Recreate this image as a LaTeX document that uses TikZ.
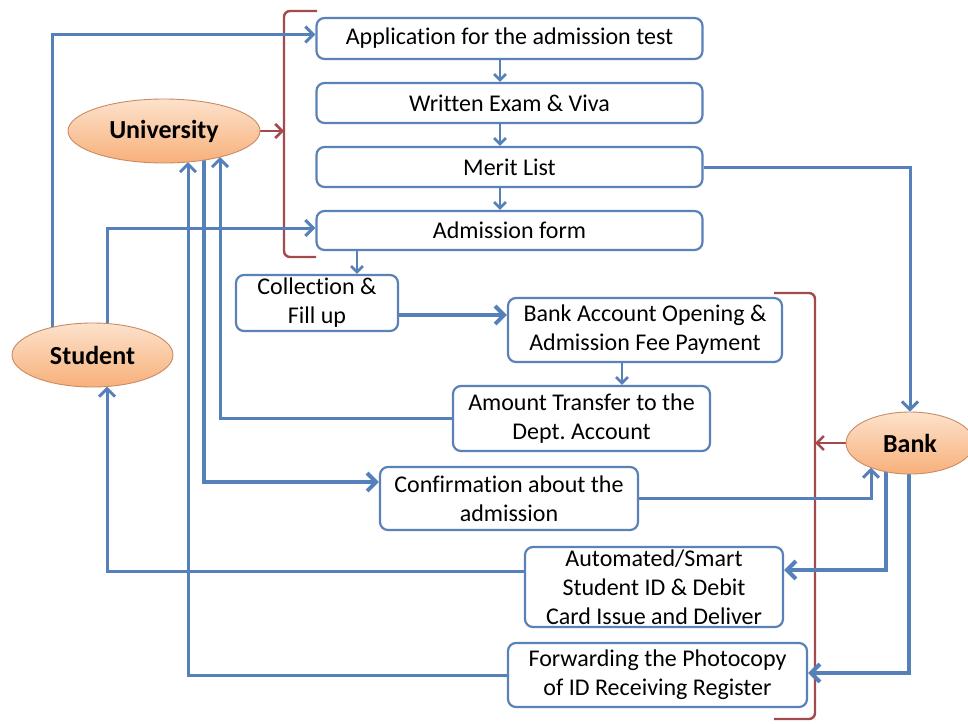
\documentclass[tikz,border=0pt]{standalone}
\usepackage{fontspec}
\setmainfont[Ligatures=NoCommon]{Carlito}
\usetikzlibrary{arrows.meta,shapes.geometric,calc,backgrounds}
\definecolor{cblue}{HTML}{5680BA}
\definecolor{bblue}{HTML}{5A82B8}
\definecolor{cred}{HTML}{A34A4C}
\definecolor{etop}{HTML}{FDE2CC}
\definecolor{ebot}{HTML}{F7B07A}
\definecolor{eline}{HTML}{C98B64}
\frenchspacing
\begin{document}
\begin{tikzpicture}[x=1pt,y=-1pt,
  box/.style={draw=bblue,line width=2.2pt,rounded corners=8pt,fill=white,inner sep=0pt,align=center,font=\fontsize{24}{29}\selectfont},
  actor/.style={ellipse,draw=eline,line width=0.9pt,top color=etop,bottom color=ebot,inner sep=0pt,font=\bfseries\fontsize{26}{30}\selectfont},
  conn/.style={draw=cblue,line width=3pt,-{Straight Barb[length=8pt,width=16pt]}},
  tconn/.style={draw=cblue,line width=4pt,-{Straight Barb[length=9pt,width=18pt]}},
  sconn/.style={draw=cblue,line width=2.6pt,-{Straight Barb[length=6pt,width=12pt]}},
  bracket/.style={draw=cred,line width=2.4pt,rounded corners=6pt},
  redarrow/.style={draw=cred,line width=2.6pt,-{Straight Barb[length=7pt,width=14pt]}}]
\useasboundingbox (0,0) rectangle (968,723);
% process boxes
\node[box,minimum width=386pt,minimum height=41pt] (app) at (509.5,38.5) {Application for the admission test};
\node[box,minimum width=386pt,minimum height=40pt] (written) at (509.5,103) {Written Exam \& Viva};
\node[box,minimum width=386pt,minimum height=40pt] (merit) at (509.5,167) {Merit List};
\node[box,minimum width=386pt,minimum height=39pt] (adm) at (509.5,230.5) {Admission form};
\node[box,minimum width=162pt,minimum height=56pt] (coll) at (317,303) {Collection \&\\Fill up};
\node[box,minimum width=274pt,minimum height=64pt] (bao) at (645,330) {Bank Account Opening \&\\Admission Fee Payment};
\node[box,minimum width=257pt,minimum height=65pt] (amt) at (581.5,418.5) {Amount Transfer to the\\Dept. Account};
\node[box,minimum width=258pt,minimum height=63pt] (conf) at (509,498.5) {Confirmation about the\\admission};
\node[box,minimum width=258pt,minimum height=80pt] (auto) at (654,587) {Automated/Smart\\Student ID \& Debit\\Card Issue and Deliver};
\node[box,minimum width=299pt,minimum height=64pt] (fwd) at (657.5,675) {Forwarding the Photocopy\\of ID Receiving Register};
% actors
\node[actor,minimum width=192pt,minimum height=64pt] (uni) at (164,131) {University};
\node[actor,minimum width=161pt,minimum height=64pt] (stu) at (92.5,355) {Student};
\node[actor,minimum width=128pt,minimum height=62pt] (bank) at (910,443) {Bank};
\begin{scope}[on background layer]
  % brackets
  \draw[bracket] (317,11) -- (284,11) -- (284,257) -- (316,257);
  \draw[bracket] (774,293) -- (815,293) -- (815,719) -- (774,719);
  \coordinate (bu) at (284,131);
  \coordinate (bb) at (815,443);
  \draw[redarrow] (uni.east) -- (bu);
  \draw[redarrow] (bank.west) -- (bb);
  % student connectors
  \draw[conn] ([xshift=-40.5pt]stu.center) |- ([yshift=4pt]app.west);
  \draw[conn] ([xshift=14.5pt]stu.center) |- ([yshift=2.5pt]adm.west);
  \draw[conn] ([yshift=16pt]auto.west) -| ([xshift=14.5pt,yshift=-31.5pt]stu.center);
  % university connectors
  \draw[conn] (fwd.west) -| ([xshift=24pt,yshift=-31pt]uni.center);
  \draw[conn] (amt.west) -| ([xshift=56pt,yshift=-26pt]uni.center);
  \draw[tconn] ([xshift=40pt]uni.center) |- ([yshift=16.5pt]conf.west);
  % bank connectors
  \draw[conn] (merit.east) -| (bank.north);
  \draw[conn] (conf.east) -| ([xshift=-39pt,yshift=-24.6pt]bank.center);
  \draw[tconn] ([xshift=-24pt]bank.center) |- ([yshift=17pt]auto.east);
  \draw[tconn] ([xshift=-1pt]bank.center) |- ([yshift=2pt]fwd.east);
  % chain
  \coordinate (c1) at ([xshift=-9.5pt]app.south);
  \draw[sconn] (c1) -- (c1 |- written.north);
  \coordinate (c2) at ([xshift=-9.5pt]written.south);
  \draw[sconn] (c2) -- (c2 |- merit.north);
  \coordinate (c3) at ([xshift=-9.5pt]merit.south);
  \draw[sconn] (c3) -- (c3 |- adm.north);
  \coordinate (cA) at ([xshift=40pt]coll.north);
  \draw[sconn] (adm.south -| cA) -- (cA);
  \coordinate (c4) at ([yshift=-12pt]coll.east);
  \draw[tconn] (c4) -- (c4 -| bao.west);
  \coordinate (c5) at ([xshift=-23pt]bao.south);
  \draw[sconn] (c5) -- (c5 |- amt.north);
\end{scope}
\end{tikzpicture}
\end{document}
